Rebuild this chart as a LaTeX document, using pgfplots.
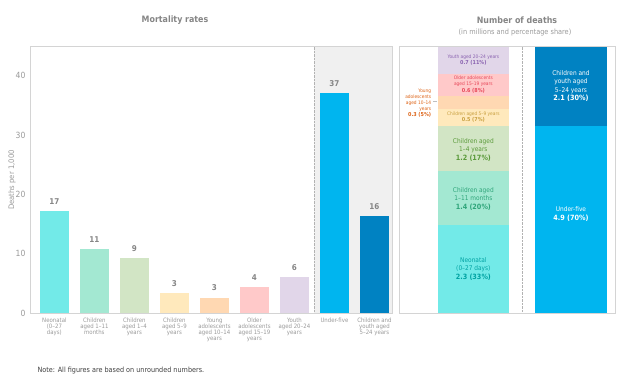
\documentclass[border=0pt]{standalone}
\usepackage{pgfplots}
\pgfplotsset{compat=1.18}
\usepackage{fontspec}
\setmainfont{DejaVu Sans Condensed}
\definecolor{cNeo}{HTML}{72EAE8}
\definecolor{cOneEleven}{HTML}{A3E8D2}
\definecolor{cOneFour}{HTML}{D2E5C5}
\definecolor{cFiveNine}{HTML}{FFE9BC}
\definecolor{cYoung}{HTML}{FFD8B2}
\definecolor{cOld}{HTML}{FFC9C9}
\definecolor{cYouth}{HTML}{E1D6E9}
\definecolor{cUfive}{HTML}{00B5EF}
\definecolor{cCY}{HTML}{0082C2}
\definecolor{cFrame}{HTML}{D4D4D4}
\definecolor{cShade}{HTML}{F0F0F0}
\definecolor{cTick}{HTML}{9A9A9A}
\definecolor{cVal}{HTML}{858585}
\definecolor{tYouth}{HTML}{8A62B0}
\definecolor{tOld}{HTML}{E8485A}
\definecolor{tYoung}{HTML}{DD6418}
\definecolor{tFiveNine}{HTML}{C9A040}
\definecolor{tOneFour}{HTML}{5A9A3A}
\definecolor{tOneEleven}{HTML}{2FA57A}
\definecolor{tNeo}{HTML}{00A2A2}
\newcommand{\fs}[2]{\fontsize{#1}{#2}\selectfont}
\begin{document}
\begin{tikzpicture}
\path[use as bounding box] (0pt,0pt) rectangle (626pt,-379pt);
% titles
\node[text=cVal, font=\fs{8.8}{10}\bfseries] at (175pt,-20.5pt) {Mortality rates};
\node[text=cVal, font=\fs{8.8}{10}\bfseries] at (517pt,-20.5pt) {Number of deaths};
\node[text=cTick, font=\fs{7.3}{8}] at (515pt,-32pt) {(in millions and percentage share)};
\node[text=cTick, font=\fs{7.6}{8}, rotate=90] at (12pt,-180pt) {Deaths per 1,000};
\node[text=black!75, font=\fs{7.2}{8}, anchor=west] at (34pt,-370.5pt) {Note: All figures are based on unrounded numbers.};
% left axis
\begin{axis}[at={(30pt,-46pt)}, anchor=north west, scale only axis,
  width=362pt, height=267pt,
  xmin=-0.61, xmax=8.44, ymin=0, ymax=45,
  axis line style={draw=cFrame},
  major tick length=0pt,
  ytick={0,10,20,30,40},
  /pgf/number format/assume math mode=true,
  yticklabel style={text=cTick, font=\fs{8.5}{9}, xshift=-1pt},
  xtick={0,...,8},
  xticklabels={{Neonatal\\(0–27\\days)},{Children\\aged 1–11\\months},{Children\\aged 1–4\\years},{Children\\aged 5–9\\years},{Young\\adolescents\\aged 10–14\\years},{Older\\adolescents\\aged 15–19\\years},{Youth\\aged 20–24\\years},{Under-five},{Children and\\youth aged\\5–24 years}},
  xticklabel style={text=cTick, font=\fs{6}{6}, align=center, yshift=-1.5pt},
  every node near coord/.append style={text=cVal, font=\fs{8}{9}\bfseries, yshift=3pt},
  nodes near coords={\pgfmathprintnumber[fixed,precision=0]{\pgfplotspointmeta}},
  clip=false]
\fill[cShade] (axis cs:6.5,0) rectangle (axis cs:8.44,45);
\draw[densely dotted, gray!60] (axis cs:6.5,0) -- (axis cs:6.5,45);
\addplot[ybar, bar width=29pt, bar shift=0pt, fill=cNeo, draw=none] coordinates {(0,17.2)};
\addplot[ybar, bar width=29pt, bar shift=0pt, fill=cOneEleven, draw=none] coordinates {(1,10.8)};
\addplot[ybar, bar width=29pt, bar shift=0pt, fill=cOneFour, draw=none] coordinates {(2,9.3)};
\addplot[ybar, bar width=29pt, bar shift=0pt, fill=cFiveNine, draw=none] coordinates {(3,3.3)};
\addplot[ybar, bar width=29pt, bar shift=0pt, fill=cYoung, draw=none] coordinates {(4,2.6)};
\addplot[ybar, bar width=29pt, bar shift=0pt, fill=cOld, draw=none] coordinates {(5,4.4)};
\addplot[ybar, bar width=29pt, bar shift=0pt, fill=cYouth, draw=none] coordinates {(6,6.1)};
\addplot[ybar, bar width=29pt, bar shift=0pt, fill=cUfive, draw=none] coordinates {(7,37.1)};
\addplot[ybar, bar width=29pt, bar shift=0pt, fill=cCY, draw=none] coordinates {(8,16.4)};
\draw[cFrame] (axis cs:-0.61,0) rectangle (axis cs:8.44,45);
\end{axis}
% right axis
\begin{axis}[at={(399pt,-46pt)}, anchor=north west, scale only axis,
  width=216pt, height=267pt,
  xmin=-0.762, xmax=1.451, ymin=0, ymax=7.0,
  ybar stacked, bar width=71.5pt,
  axis line style={draw=cFrame},
  xtick=\empty, ytick=\empty, clip=false]
\draw[densely dotted, gray!60] (axis cs:0.5,0) -- (axis cs:0.5,7);
\addplot[fill=cNeo, draw=none] coordinates {(0,2.32) (1,0)};
\addplot[fill=cOneEleven, draw=none] coordinates {(0,1.39) (1,0)};
\addplot[fill=cOneFour, draw=none] coordinates {(0,1.19) (1,0)};
\addplot[fill=cFiveNine, draw=none] coordinates {(0,0.46) (1,0)};
\addplot[fill=cYoung, draw=none] coordinates {(0,0.34) (1,0)};
\addplot[fill=cOld, draw=none] coordinates {(0,0.57) (1,0)};
\addplot[fill=cYouth, draw=none] coordinates {(0,0.73) (1,0)};
\addplot[fill=cUfive, draw=none] coordinates {(0,0) (1,4.9)};
\addplot[fill=cCY, draw=none] coordinates {(0,0) (1,2.1)};
\coordinate (pNeo) at (axis cs:0,1.16);
\coordinate (pOE) at (axis cs:0,3.0);
\coordinate (pOF) at (axis cs:0,4.28);
\coordinate (pFN) at (axis cs:0,5.14);
\coordinate (pOld) at (axis cs:0,5.99);
\coordinate (pYouth) at (axis cs:0,6.63);
\coordinate (pYoung) at (axis cs:-0.42,5.5);
\coordinate (pL1) at (axis cs:-0.41,5.55);
\coordinate (pL2) at (axis cs:-0.37,5.55);
\coordinate (pCY) at (axis cs:1,5.95);
\coordinate (pU5) at (axis cs:1,2.6);
\coordinate (bl) at (axis cs:-0.762,0);
\coordinate (tr) at (axis cs:1.451,7);
\end{axis}
% labels on top
\node[align=center, text=tNeo, font=\fs{6.5}{8.5}] at (pNeo) {Neonatal\\(0–27 days)\\{\fs{7.2}{8.5}\bfseries 2.3 (33\%)}};
\node[align=center, text=tOneEleven, font=\fs{6.5}{8.5}] at (pOE) {Children aged\\1–11 months\\{\fs{7.2}{8.5}\bfseries 1.4 (20\%)}};
\node[align=center, text=tOneFour, font=\fs{6.5}{8.5}] at (pOF) {Children aged\\1–4 years\\{\fs{7.2}{8.5}\bfseries 1.2 (17\%)}};
\node[align=center, text=tFiveNine, font=\fs{4.8}{6.2}] at (pFN) {Children aged 5–9 years\\{\fs{5.4}{6.2}\bfseries 0.5 (7\%)}};
\node[align=center, text=tOld, font=\fs{4.8}{6.2}] at (pOld) {Older adolescents\\aged 15–19 years\\{\fs{5.4}{6.4}\bfseries 0.6 (8\%)}};
\node[align=center, text=tYouth, font=\fs{4.8}{6.2}] at (pYouth) {Youth aged 20–24 years\\{\fs{5.4}{6.4}\bfseries 0.7 (11\%)}};
\node[align=right, anchor=east, text=tYoung, font=\fs{4.8}{5.9}, inner sep=1pt] at (pYoung) {Young\\adolescents\\aged 10–14\\years\\{\fs{5.4}{5.9}\bfseries 0.3 (5\%)}};
\draw[gray!50, line width=0.3pt] (pL1) -- (pL2);
\node[align=center, text=white, font=\fs{6.5}{8.6}] at (pCY) {Children and\\youth aged\\5–24 years\\{\fs{7.2}{8.6}\bfseries 2.1 (30\%)}};
\node[align=center, text=white, font=\fs{6.5}{8.6}] at (pU5) {Under-five\\{\fs{7.2}{8.6}\bfseries 4.9 (70\%)}};
\draw[cFrame] (bl) rectangle (tr);
\end{tikzpicture}
\end{document}
